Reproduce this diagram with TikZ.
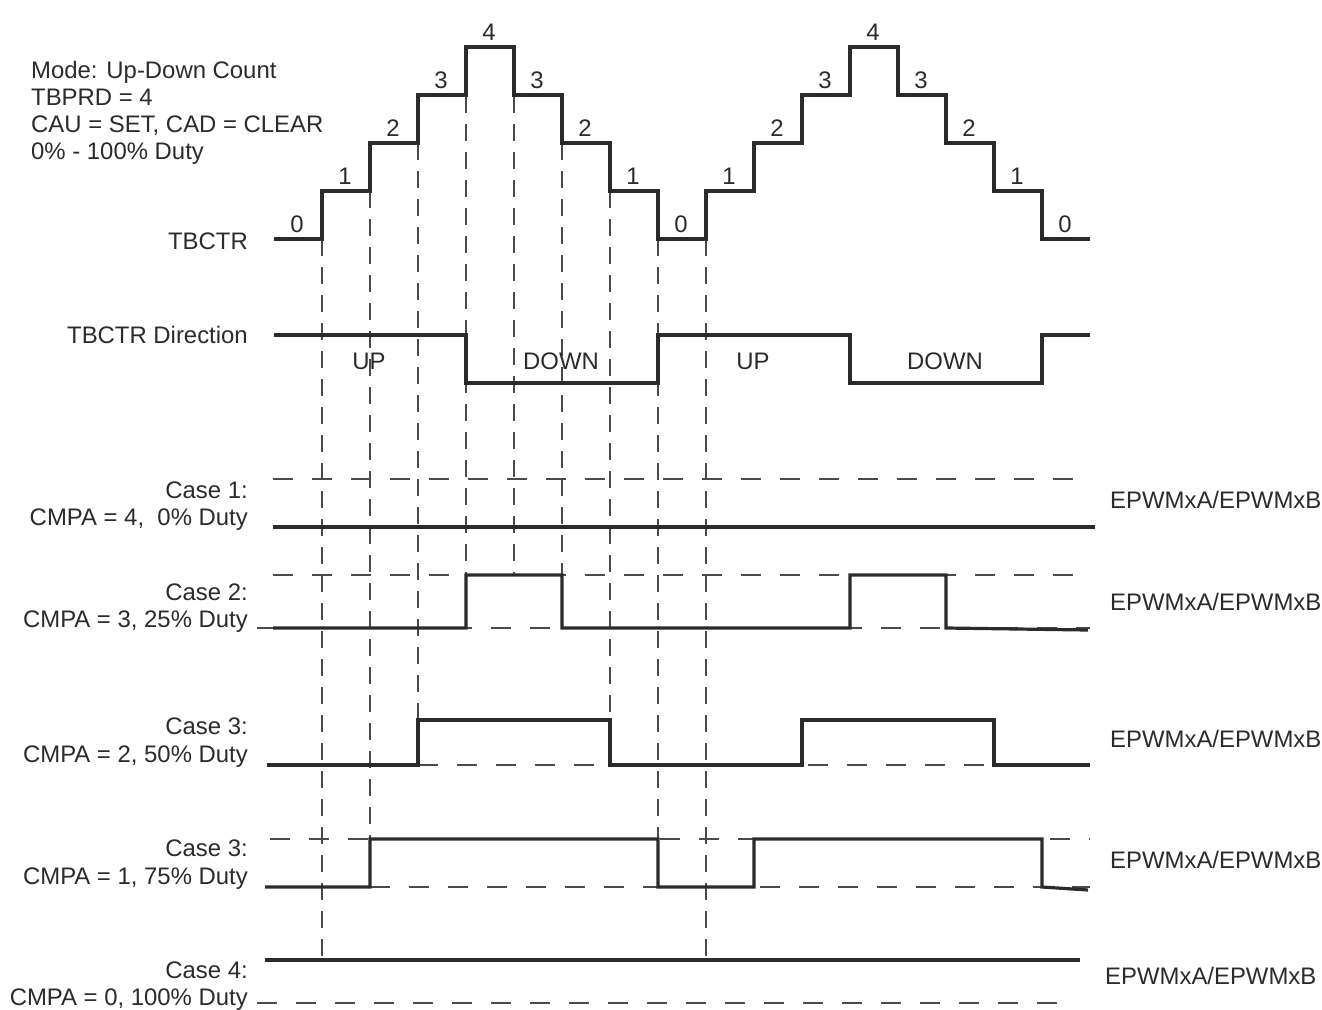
\documentclass[tikz,border=0pt]{standalone}
\usepackage{fontspec}
\setmainfont{Liberation Sans}
\usetikzlibrary{positioning}
\definecolor{ink}{HTML}{2B2B2B}
\definecolor{guide}{HTML}{4A4A4A}

\begin{document}
\begin{tikzpicture}[x=1pt, y=-1pt,
    txt/.style={font=\fontsize{23.9}{27}\selectfont, text=ink, inner sep=0pt},
    wave/.style={draw=ink, line width=3.2pt},
    vguide/.style={draw=guide, line width=1.3pt, dash pattern=on 17pt off 11pt},
    hguide/.style={draw=guide, line width=1.3pt, dash pattern=on 20pt off 19pt}]
  \useasboundingbox (0,0) rectangle (1322,1009);

  % Header text
  \node[txt, anchor=north west, align=left] (mode) at (31,61)
    {Mode: Up-Down Count\\TBPRD = 4\\CAU = SET, CAD = CLEAR\\0\% - 100\% Duty};

  % Guide lines (vertical)
  \foreach \x/\ya/\yb in {322/239/960, 370/191/839, 418/143/720, 466/96/575,
      514/96/575, 562/143/575, 610/191/765, 658/239/839, 706/239/960}
    \draw[vguide] (\x,\ya) -- (\x,\yb);

  % Guide lines (horizontal)
  \draw[hguide] (273,479) -- (1090,479);
  \draw[hguide] (273,575) -- (1090,575);
  \draw[hguide] (257,628) -- (1090,628);
  \draw[hguide] (418,765) -- (1090,765);
  \draw[hguide] (270,839) -- (1090,839);
  \draw[hguide] (370,887) -- (1090,887);
  \draw[hguide] (257,1003) -- (1075,1003);

  % Row 1: counter
  \node[txt, anchor=base east] (tbctr) at (248,249) {TBCTR};
  \draw[wave] (274,239)
    \foreach \v [count=\i] in {1,2,3,4,3,2,1,0,1,2,3,4,3,2,1,0}
      { -| ({274+48*\i},{239-48*\v}) } -- (1090,239);
  \foreach \v [count=\i from 0] in {0,1,2,3,4,3,2,1,0,1,2,3,4,3,2,1,0}
    \node[txt, anchor=base] (cnt\i) at ({297+48*\i},{232-48*\v}) {\v};

  % Row 2: direction
  \node[txt, anchor=base east] (dir) at (248,343) {TBCTR Direction};
  \draw[wave] (274,335) -| (466,383) -| (658,335) -| (850,383) -| (1042,335) -- (1090,335);
  \node[txt] (up1) at (369,361) {UP};
  \node[txt] (down1) at (561,361) {DOWN};
  \node[txt] (up2) at (753,361) {UP};
  \node[txt] (down2) at (945,361) {DOWN};

  % Row 3: outputs
  \node[txt, anchor=base east] (cmpa1) at (248,525) {CMPA = 4,\ \ 0\% Duty};
  \node[txt, anchor=base east] (case1) at ([yshift=27pt]cmpa1.base east) {Case 1:};
  \draw[wave] (273,527) -- (1095,527);
  \node[txt, anchor=base west] (out1) at (1110,508) {EPWMxA/EPWMxB};

  \node[txt, anchor=base east] (cmpa2) at (248,627) {CMPA = 3, 25\% Duty};
  \node[txt, anchor=base east] (case2) at ([yshift=27pt]cmpa2.base east) {Case 2:};
  \draw[wave] (273,628) -| (466,575) -| (562,628) -| (850,575) -| (946,628) -- (1088,630);
  \node[txt, anchor=base west] (out2) at (1110,610) {EPWMxA/EPWMxB};

  \node[txt, anchor=base east] (cmpa3) at (248,762) {CMPA = 2, 50\% Duty};
  \node[txt, anchor=base east] (case3) at ([yshift=28pt]cmpa3.base east) {Case 3:};
  \draw[wave] (267,765) -| (418,720) -| (610,765) -| (802,720) -| (994,765) -- (1090,765);
  \node[txt, anchor=base west] (out3) at (1110,747) {EPWMxA/EPWMxB};

  \node[txt, anchor=base east] (cmpa4) at (248,884) {CMPA = 1, 75\% Duty};
  \node[txt, anchor=base east] (case4) at ([yshift=28pt]cmpa4.base east) {Case 3:};
  \draw[wave] (265,887) -| (370,839) -| (658,887) -| (754,839) -| (1042,887) -- (1088,890);
  \node[txt, anchor=base west] (out4) at (1110,868) {EPWMxA/EPWMxB};

  \node[txt, anchor=base east] (cmpa5) at (248,1005) {CMPA = 0, 100\% Duty};
  \node[txt, anchor=base east] (case5) at ([yshift=27pt]cmpa5.base east) {Case 4:};
  \draw[wave] (265,960) -- (1080,960);
  \node[txt, anchor=base west] (out5) at (1105,984) {EPWMxA/EPWMxB};
\end{tikzpicture}
\end{document}
